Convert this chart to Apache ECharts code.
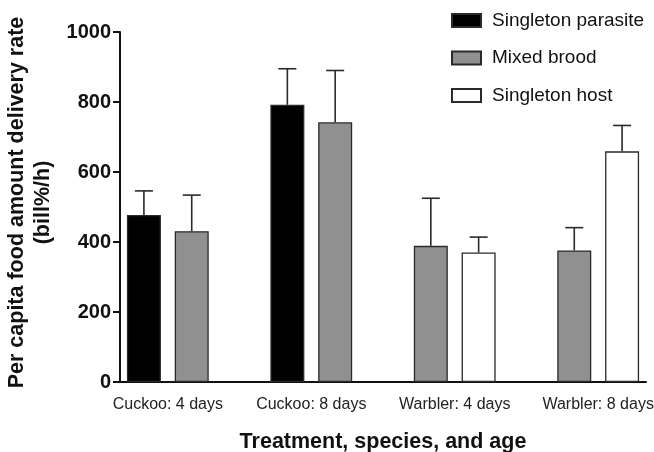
<!DOCTYPE html>
<html lang="en">
  <head>
    <meta charset="UTF-8" />
    <title>Food delivery rate by treatment</title>
    <script src="https://cdnjs.cloudflare.com/ajax/libs/echarts/6.0.0/echarts.min.js"></script>
    <style>
      html, body { margin: 0; padding: 0; background: #fff; }
      #main { width: 654px; height: 452px; }
    </style>
  </head>
  <body>
    <div id="main"></div>
    <script type="text/javascript">
      // data
      var categories = ["Cuckoo: 4 days", "Cuckoo: 8 days", "Warbler: 4 days", "Warbler: 8 days"];
      var seriesNames = ["Singleton parasite", "Mixed brood", "Singleton host"];
      var parasiteMean = [477, 792, null, null];
      var parasiteUpper = [546, 895, null, null];
      var mixedMean = [431, 742, 389, 376];
      var mixedUpper = [534, 890, 525, 441];
      var hostMean = [null, null, 370, 659];
      var hostUpper = [null, null, 414, 733];
      var yTicks = [0, 200, 400, 600, 800, 1000];

      var means = [parasiteMean, mixedMean, hostMean];
      var uppers = [parasiteUpper, mixedUpper, hostUpper];
      var fills = ["#000000", "#909090", "#ffffff"];
      var font = "'Liberation Sans', Arial, Helvetica, sans-serif";

      // each category holds its bars side by side, then one empty slot
      function slotX(catIndex, seriesIndex) {
        var j = 0;
        for (var s = 0; s < seriesIndex; s++) {
          if (means[s][catIndex] != null) j++;
        }
        return catIndex * 3 + j + 0.5;
      }

      var series = [];
      var errData = [];
      seriesNames.forEach(function (name, s) {
        var data = [];
        categories.forEach(function (c, i) {
          if (means[s][i] == null) return;
          var x = slotX(i, s);
          data.push([x, means[s][i]]);
          errData.push([x, means[s][i], uppers[s][i]]);
        });
        series.push({
          name: name,
          type: "bar",
          data: data,
          barWidth: 34,
          barGap: "-100%",
          z: 3,
          itemStyle: { color: fills[s], borderColor: "#2a2a2a", borderWidth: 1.3 },
          emphasis: { disabled: true },
        });
      });

      series.push({
        type: "custom",
        name: "err",
        data: errData,
        z: 2,
        encode: { x: 0, y: [1, 2] },
        renderItem: function (params, api) {
          var x = api.value(0);
          var p0 = api.coord([x, api.value(1)]);
          var p1 = api.coord([x, api.value(2)]);
          var st = { stroke: "#2a2a2a", lineWidth: 1.6 };
          return {
            type: "group",
            children: [
              { type: "line", shape: { x1: p0[0], y1: p0[1], x2: p1[0], y2: p1[1] }, style: st },
              { type: "line", shape: { x1: p1[0] - 9, y1: p1[1], x2: p1[0] + 9, y2: p1[1] }, style: st },
            ],
          };
        },
      });

      var myChart = echarts.init(document.getElementById("main"));
      var option = {
        animation: false,
        textStyle: { fontFamily: font },
        grid: { left: 120, top: 32, width: 526, height: 350, containLabel: false, outerBoundsMode: "none" },
        legend: {
          orient: "vertical",
          left: 446,
          top: 6,
          itemWidth: 29,
          itemHeight: 13,
          itemGap: 18.5,
          icon: "rect",
          data: seriesNames,
          textStyle: { fontSize: 19, color: "#111", fontFamily: font, padding: [0, 0, 0, 6] },
        },
        xAxis: {
          type: "value",
          min: 0,
          max: 11,
          splitLine: { show: false },
          axisTick: { show: false },
          axisLine: { show: true, onZero: false, lineStyle: { color: "#111", width: 2 } },
          axisLabel: {
            customValues: [1, 4, 7, 10],
            formatter: function (v) {
              return categories[Math.round((v - 1) / 3)];
            },
            fontSize: 16,
            color: "#222",
            margin: 15,
          },
          name: "Treatment, species, and age",
          nameLocation: "middle",
          nameGap: 49,
          nameTextStyle: { fontSize: 21.5, fontWeight: "bold", color: "#111" },
        },
        yAxis: {
          type: "value",
          min: yTicks[0],
          max: yTicks[yTicks.length - 1],
          interval: yTicks[1] - yTicks[0],
          splitLine: { show: false },
          axisLine: { show: true, lineStyle: { color: "#111", width: 2 } },
          axisTick: { show: true, length: 7, lineStyle: { color: "#111", width: 2 } },
          axisLabel: {
            fontSize: 20,
            fontWeight: "bold",
            color: "#111",
            margin: 9,
            formatter: function (v) { return String(v); },
          },
          name: "Per capita food amount delivery rate\n(bill%/h)",
          nameLocation: "middle",
          nameRotate: 90,
          nameGap: 43,
          nameTextStyle: {
            fontSize: 21.5,
            fontWeight: "bold",
            color: "#111",
            lineHeight: 26,
            padding: [0, 0, 0, 9],
          },
        },
        series: series,
      };
      myChart.setOption(option);

      window.onresize = function () {
        myChart.resize();
      };
    </script>
  </body>
</html>
